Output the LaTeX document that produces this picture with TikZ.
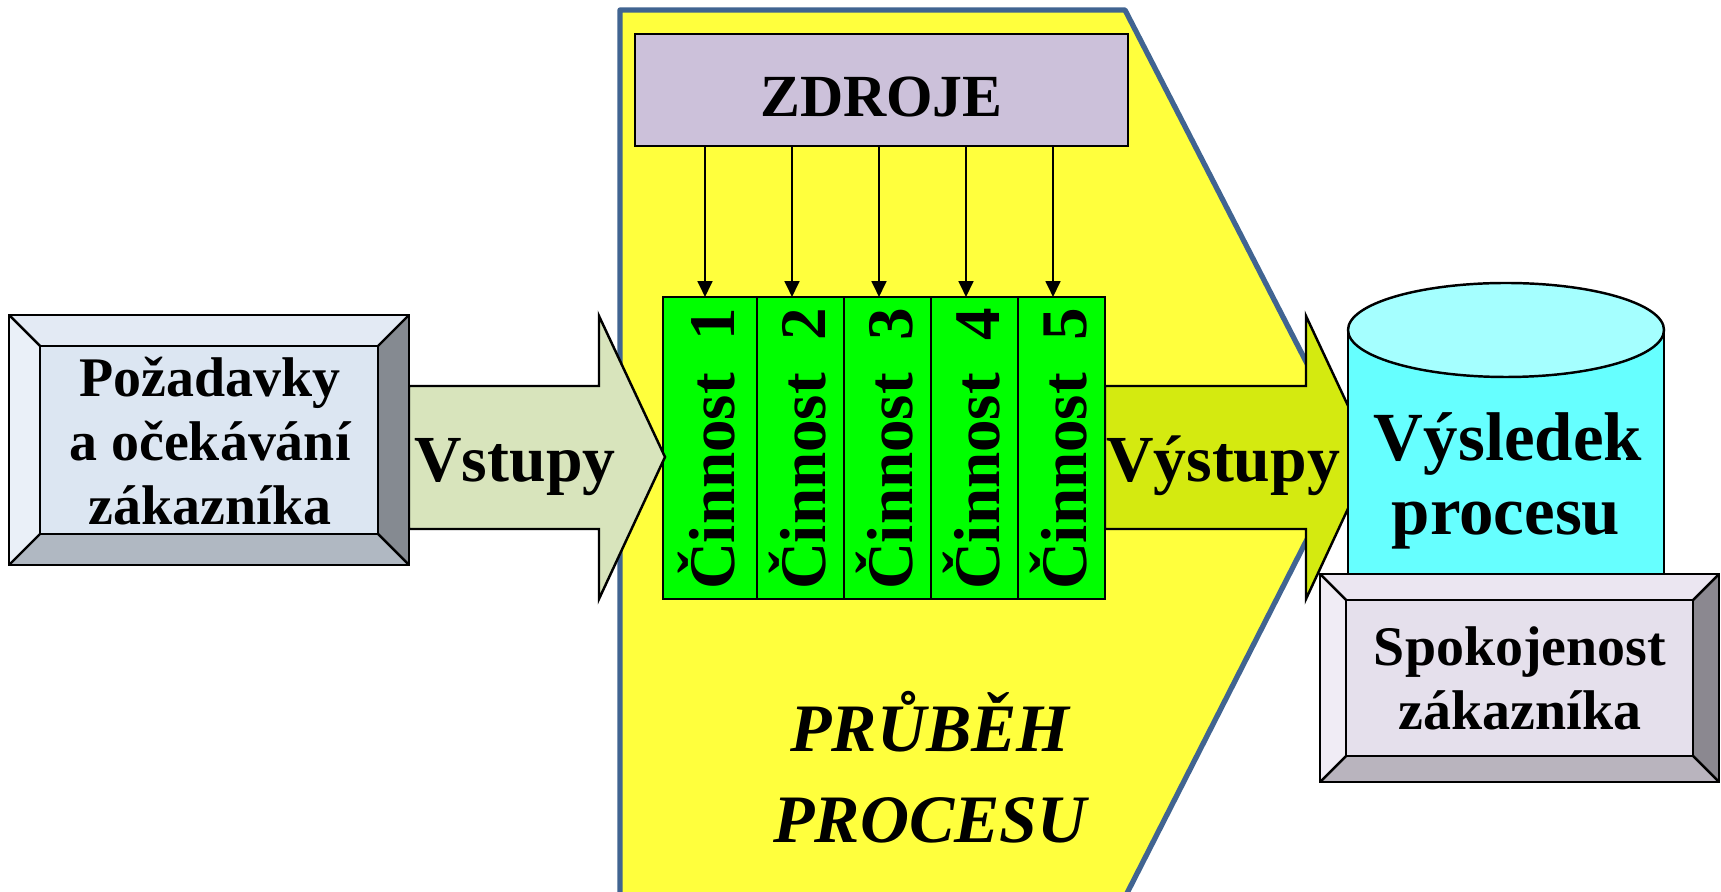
\documentclass[tikz,border=0pt]{standalone}
\usepackage{fontspec}
\setmainfont{Liberation Serif}
\usepackage{xcolor}
\usepackage{tikz}
\usetikzlibrary{positioning,calc,arrows.meta}

\definecolor{procyellow}{RGB}{255,255,61}
\definecolor{procblue}{RGB}{65,100,145}
\definecolor{zdrojcol}{RGB}{204,193,218}
\definecolor{actgreen}{RGB}{0,255,0}
\definecolor{incol}{RGB}{216,228,188}
\definecolor{outcol}{RGB}{212,234,16}
\definecolor{cylside}{RGB}{102,255,255}
\definecolor{cyltop}{RGB}{165,255,255}
\definecolor{reqmid}{RGB}{220,230,242}
\definecolor{reqtop}{RGB}{227,234,244}
\definecolor{reqleft}{RGB}{234,240,248}
\definecolor{reqright}{RGB}{133,138,145}
\definecolor{reqbot}{RGB}{176,184,194}
\definecolor{satmid}{RGB}{229,224,236}
\definecolor{sattop}{RGB}{235,230,241}
\definecolor{satleft}{RGB}{240,236,245}
\definecolor{satright}{RGB}{139,136,144}
\definecolor{satbot}{RGB}{185,180,190}

\tikzset{
  edge/.style={draw=black, line width=0.7pt},
  feed/.style={line width=0.6pt, -{Triangle[length=4.5pt,width=4.2pt]}},
  boxtxt/.style={font=\fontsize{15.9}{18}\selectfont\bfseries, anchor=base, inner sep=0pt},
  arrtxt/.style={font=\fontsize{18.7}{22}\selectfont\bfseries, anchor=base, inner sep=0pt},
  acttxt/.style={font=\fontsize{18.5}{22}\selectfont\bfseries, rotate=90, inner sep=0pt},
  restxt/.style={font=\fontsize{19.6}{23}\selectfont\bfseries, anchor=base, inner sep=0pt},
  ittxt/.style={font=\fontsize{19.3}{23}\selectfont\bfseries\itshape, anchor=base, inner sep=0pt}
}

% bevelled box: colour prefix, x1, y1, x2, y2, inset
\newcommand{\bevelbox}[6]{%
  \fill[#1top] (#2,#3) -- (#4,#3) -- ({#4-#6},{#3+#6}) -- ({#2+#6},{#3+#6}) -- cycle;
  \fill[#1left] (#2,#3) -- ({#2+#6},{#3+#6}) -- ({#2+#6},{#5-#6}) -- (#2,#5) -- cycle;
  \fill[#1right] (#4,#3) -- (#4,#5) -- ({#4-#6},{#5-#6}) -- ({#4-#6},{#3+#6}) -- cycle;
  \fill[#1bot] (#2,#5) -- ({#2+#6},{#5-#6}) -- ({#4-#6},{#5-#6}) -- (#4,#5) -- cycle;
  \fill[#1mid] ({#2+#6},{#3+#6}) rectangle ({#4-#6},{#5-#6});
  \draw[edge] (#2,#3) rectangle (#4,#5);
  \draw[edge] ({#2+#6},{#3+#6}) rectangle ({#4-#6},{#5-#6});
  \draw[edge] (#2,#3) -- ({#2+#6},{#3+#6}) (#4,#3) -- ({#4-#6},{#3+#6})
              (#2,#5) -- ({#2+#6},{#5-#6}) (#4,#5) -- ({#4-#6},{#5-#6});
}

\begin{document}
\begin{tikzpicture}[x=0.01cm, y=-0.01cm]
  \useasboundingbox (0,0) rectangle (1721,892);

  % process body
  \draw[fill=procyellow, draw=procblue, line width=1.5pt, line join=round]
    (620,905) -- (620,10) -- (1125,10) -- (1352,451) -- (1121,905) -- cycle;

  % resources
  \node[draw, line width=0.7pt, fill=zdrojcol, minimum width=4.93cm, minimum height=1.12cm,
        text height=0.52cm, text depth=0cm, inner sep=0pt,
        font=\fontsize{17}{20}\selectfont\bfseries] (zdroje) at (881.5,90) {ZDROJE};

  % output arrow
  \draw[edge, fill=outcol] (1105,386) -- (1306,386) -- (1306,316) -- (1372,457)
    -- (1306,599) -- (1306,529) -- (1105,529) -- cycle;

  % activities
  \foreach \i/\xa/\xb in {1/663/757,2/757/844,3/844/931,4/931/1018,5/1018/1105}{
    \draw[edge, fill=actgreen] (\xa,297) rectangle (\xb,599);
    \node[acttxt] (act\i) at ({(\xa+\xb)/2-3},449) {Činnost~~\i};
  }
  \foreach \i in {1,...,5}{
    \coordinate (in\i) at ({705+87*(\i-1)},297);
    \draw[feed] (in\i |- zdroje.south) -- (in\i);
  }

  % input arrow
  \draw[edge, fill=incol] (409,386) -- (599,386) -- (599,316) -- (665,457)
    -- (599,599) -- (599,529) -- (409,529) -- cycle;

  % result cylinder
  \fill[cylside] (1348,330) rectangle (1664,590);
  \draw[edge] (1348,590) -- (1348,330) (1664,330) -- (1664,590);
  \draw[edge, fill=cyltop] (1506,330) ellipse [x radius=158, y radius=47];

  % customer boxes
  \bevelbox{req}{9}{315}{409}{565}{31}
  \bevelbox{sat}{1320}{574}{1719}{782}{26}

  % texts
  \node[boxtxt] (req1) at (210,397) {Požadavky};
  \node[boxtxt] (req2) at (210,461) {a očekávání};
  \node[boxtxt] (req3) at (210,525) {zákazníka};
  \node[arrtxt] (vstupy) at (515,482) {Vstupy};
  \node[arrtxt] (vystupy) at (1223,482) {Výstupy};
  \node[restxt] (res1) at (1508,461) {Výsledek};
  \node[restxt] (res2) at (1506,535) {procesu};
  \node[boxtxt] (sat1) at (1520,666) {Spokojenost};
  \node[boxtxt] (sat2) at (1520,730) {zákazníka};
  \node[ittxt] (prub1) at (930,752) {PRŮBĚH};
  \node[ittxt] (prub2) at (930,843) {PROCESU};
\end{tikzpicture}
\end{document}
